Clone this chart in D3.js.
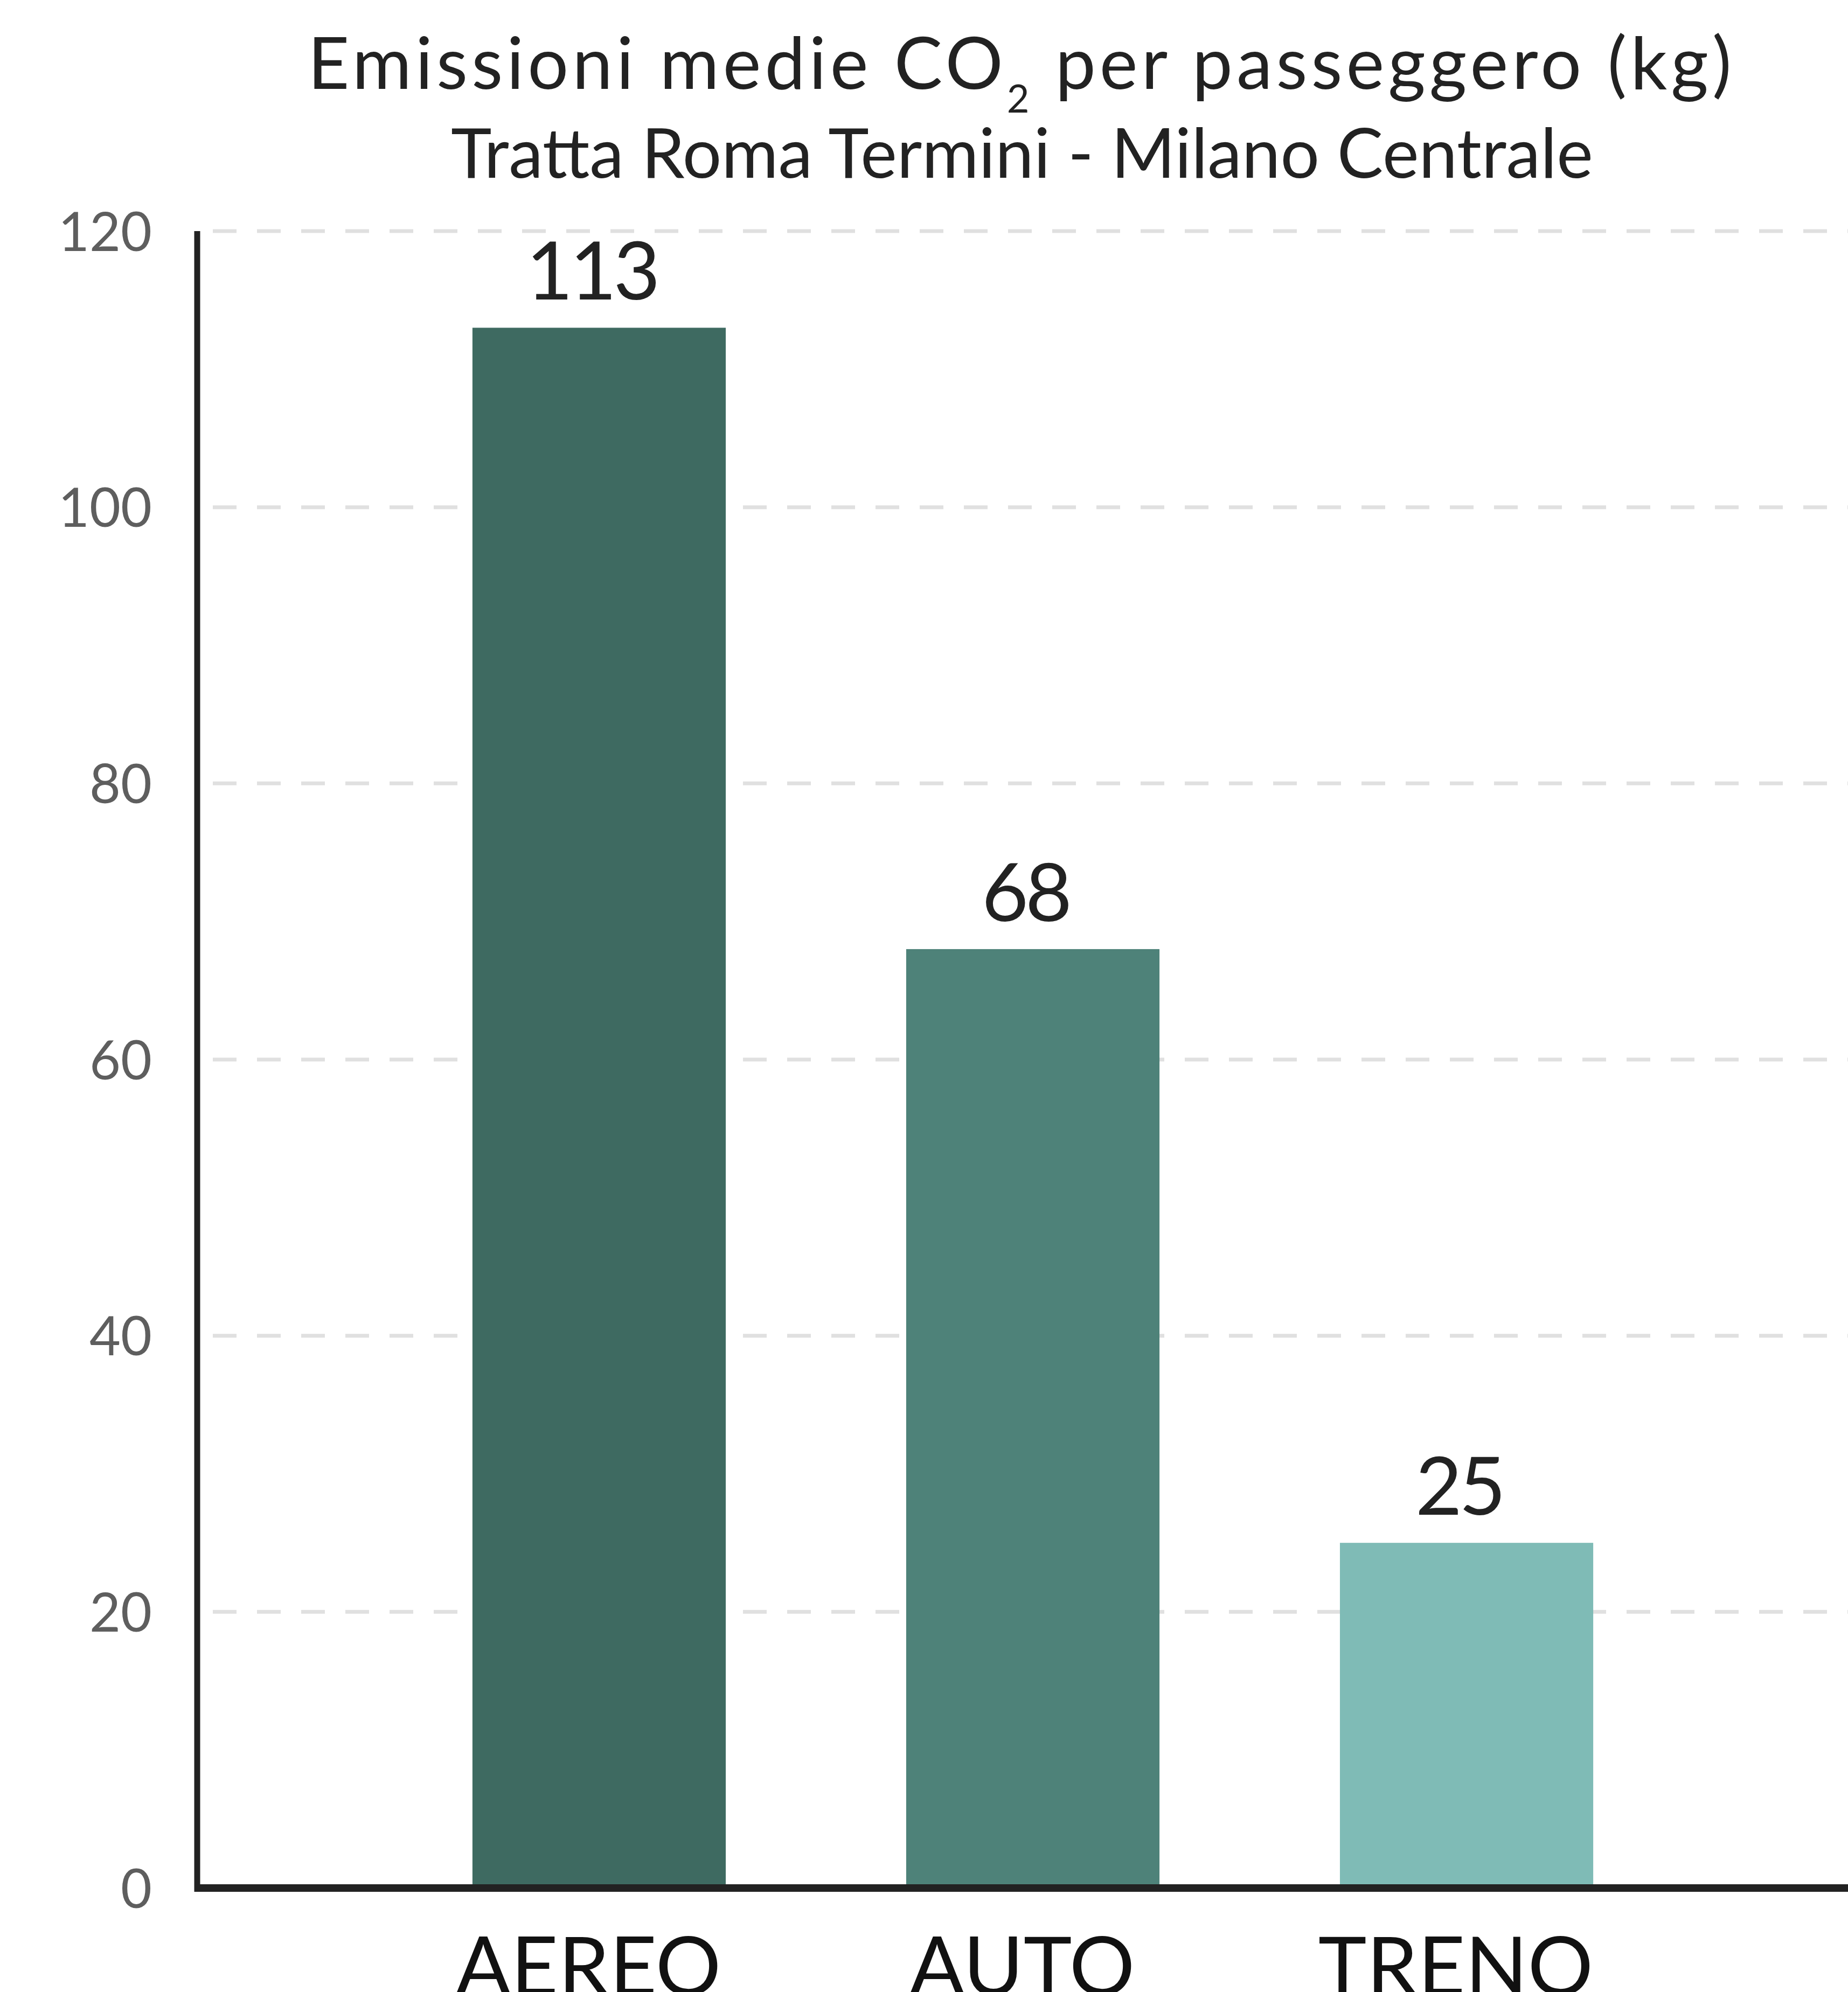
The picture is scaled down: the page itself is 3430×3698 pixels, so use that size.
<!DOCTYPE html>
<html>
<head>
<meta charset="utf-8">
<script src="https://cdn.jsdelivr.net/npm/d3@7/dist/d3.min.js"></script>
<style>
  html, body { margin: 0; padding: 0; background: #ffffff; }
  svg { display: block; }
</style>
</head>
<body>
<script>
// ---- data ----
const categories = ["AEREO", "AUTO", "TRENO"];
const values = [113, 68, 25];
const barColors = ["#3e6a61", "#4e8279", "#7fbbb6"];
const yTicks = [0, 20, 40, 60, 80, 100, 120];
const titleMain = ["Emissioni medie CO", "2", " per passeggero (kg)"];
const subtitle = "Tratta Roma Termini - Milano Centrale";

// ---- layout ----
const W = 3430, H = 3698;
const FONT = "Lato, 'Open Sans', 'DejaVu Sans', sans-serif";

const svg = d3.select("body").append("svg")
  .attr("width", W).attr("height", H)
  .attr("viewBox", `0 0 ${W} ${H}`);

const y = d3.scaleLinear().domain([0, 120]).range([3505, 429]);
const x = d3.scaleBand().domain(categories).range([542, 3292]).padding(0.416);

// gridlines
const grid = svg.append("g");
grid.selectAll("line").data(yTicks.filter(d => d > 0)).join("line")
  .attr("x1", 395).attr("x2", W)
  .attr("y1", d => y(d)).attr("y2", d => y(d))
  .attr("stroke", "#e0e0e0").attr("stroke-width", 7)
  .attr("stroke-dasharray", "44 38");

// y tick labels via axis
const yAxis = d3.axisLeft(y).tickValues(yTicks).tickSize(0).tickPadding(0);
const gy = svg.append("g").attr("transform", "translate(282,0)").call(yAxis);
gy.select(".domain").remove();
gy.selectAll("text")
  .attr("font-family", FONT).attr("font-size", 100)
  .attr("fill", "#5e5e5e").attr("dy", "0.36em");

// bars
svg.append("g").selectAll("rect").data(values).join("rect")
  .attr("x", (d, i) => x(categories[i]))
  .attr("width", x.bandwidth())
  .attr("y", d => y(d))
  .attr("height", d => y(0) - y(d))
  .attr("fill", (d, i) => barColors[i]);

// value labels
svg.append("g").selectAll("text").data(values).join("text")
  .attr("x", (d, i) => x(categories[i]) + x.bandwidth() / 2 - 14)
  .attr("y", d => y(d) - 52)
  .attr("text-anchor", "middle")
  .attr("font-family", FONT).attr("font-size", 150)
  .attr("letter-spacing", -6)
  .attr("fill", "#222")
  .text(d => d);

// axes lines
svg.append("line")
  .attr("x1", 366).attr("x2", 366).attr("y1", y(120)).attr("y2", y(0) + 7)
  .attr("stroke", "#222").attr("stroke-width", 11);
svg.append("line")
  .attr("x1", 361).attr("x2", W).attr("y1", y(0)).attr("y2", y(0))
  .attr("stroke", "#222").attr("stroke-width", 14);

// category labels
const xAxis = d3.axisBottom(x).tickSize(0).tickPadding(0);
const gx = svg.append("g").attr("transform", "translate(-20,3704)").call(xAxis);
gx.select(".domain").remove();
gx.selectAll("text")
  .attr("font-family", FONT).attr("font-size", 152)
  .attr("fill", "#111").attr("dy", 0).attr("y", 0);

// title
const t = svg.append("text")
  .attr("x", 1896).attr("y", 165)
  .attr("text-anchor", "middle")
  .attr("font-family", FONT).attr("font-size", 134)
  .attr("letter-spacing", 7)
  .attr("fill", "#222");
t.append("tspan").text(titleMain[0]);
t.append("tspan").attr("font-size", 72).attr("dy", 44).text(titleMain[1]);
t.append("tspan").attr("dy", -44).text(titleMain[2]);

svg.append("text")
  .attr("x", 1897).attr("y", 330)
  .attr("text-anchor", "middle")
  .attr("font-family", FONT).attr("font-size", 128)
  .attr("fill", "#222")
  .text(subtitle);
</script>
</body>
</html>
